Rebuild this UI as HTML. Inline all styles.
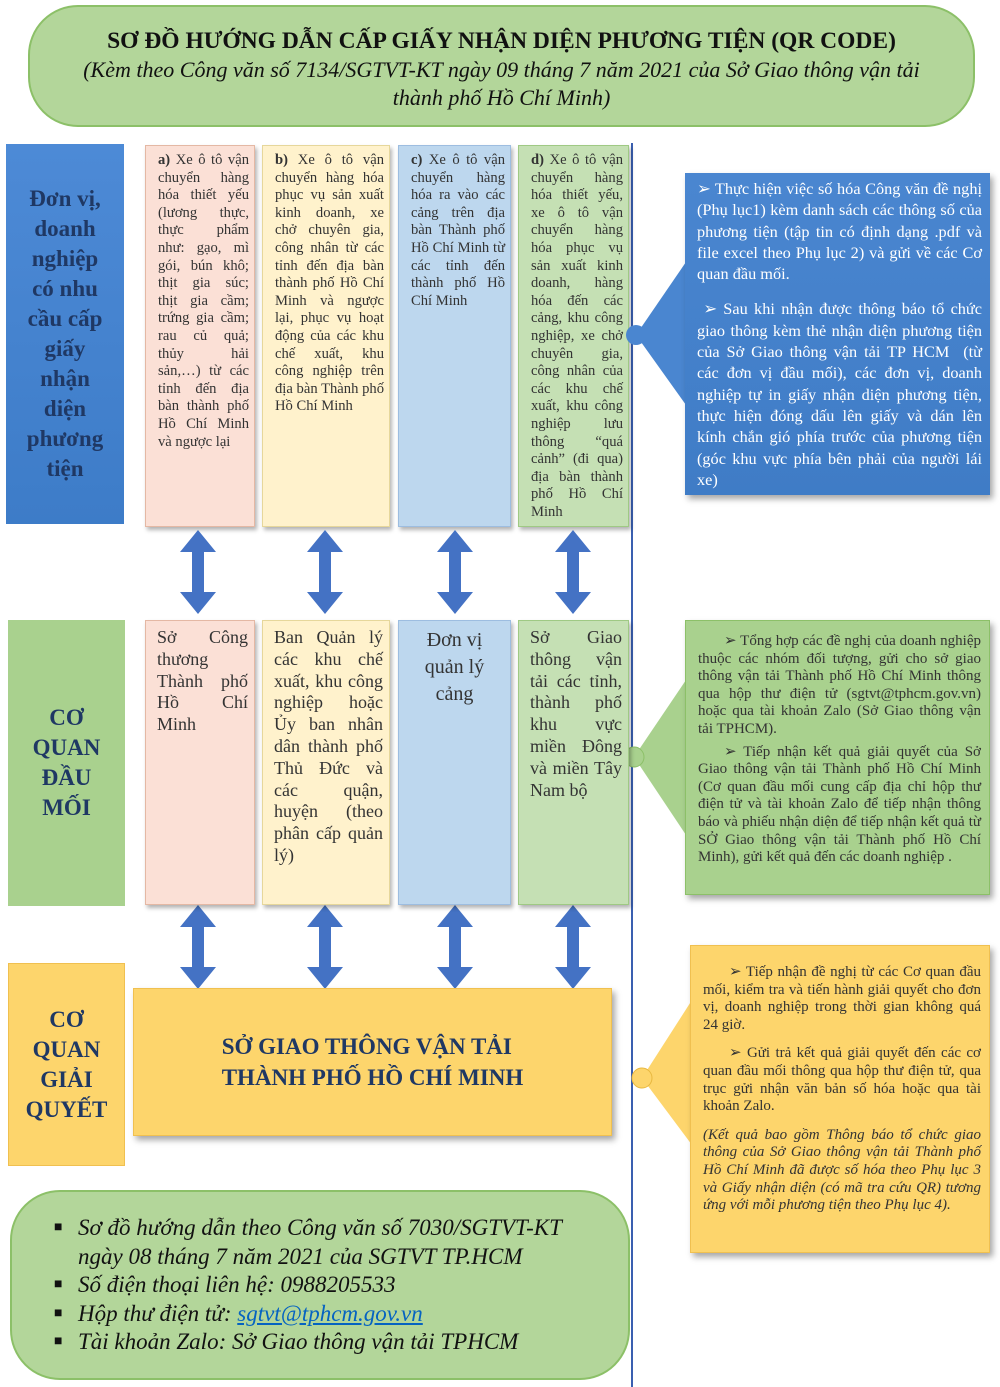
<!DOCTYPE html>
<html><head><meta charset="utf-8"><style>
body{margin:0;width:1000px;height:1387px;position:relative;background:#fff;font-family:"Liberation Serif",serif;overflow:hidden}
.a{position:absolute;box-sizing:border-box}
.col{font-size:14.6px;line-height:17.6px;text-align:justify;color:#333;padding:6px 5px 0 12px;box-shadow:2px 3px 4px rgba(0,0,0,.3)}
.col2{font-size:18px;line-height:21.8px;text-align:justify;color:#333;padding:6px 6px 0 11px;box-shadow:2px 3px 4px rgba(0,0,0,.3)}
.lbl{font-weight:bold;color:#1f3864;text-align:center;display:flex;align-items:center;justify-content:center}
.call{box-shadow:3px 4px 6px rgba(0,0,0,.35);text-align:justify}
p{margin:0}
</style></head><body>
<div class="a" style="left:28px;top:5px;width:947px;height:122px;border-radius:50px;background:#b3d69a;border:2px solid #8cc068;text-align:center;color:#111;padding-top:20px">
<div style="font-size:23.5px;font-weight:bold;line-height:29px">SƠ ĐỒ HƯỚNG DẪN CẤP GIẤY NHẬN DIỆN PHƯƠNG TIỆN (QR CODE)</div>
<div style="font-size:22px;font-style:italic;line-height:28px;padding:0 30px">(Kèm theo Công văn số 7134/SGTVT-KT ngày 09 tháng 7 năm 2021 của Sở Giao thông vận tải thành phố Hồ Chí Minh)</div>
</div>

<div class="a" style="left:631px;top:143px;width:2px;height:1244px;background:#3a5fb0"></div>

<div class="a lbl" style="left:6px;top:144px;width:118px;height:380px;background:linear-gradient(#4d8ad6,#3d7cc8);font-size:23px;line-height:30px;padding:0 16px">Đơn vị, doanh nghiệp có nhu cầu cấp giấy nhận diện phương tiện</div>
<div class="a col" style="left:145px;top:145px;width:110px;height:382px;background:#fbe0d6;border:1px solid #e4b8a4"><b>a)</b> Xe ô tô vận chuyển hàng hóa thiết yếu (lương thực, thực phẩm như: gạo, mì gói, bún khô; thịt gia súc; thịt gia cầm; trứng gia cầm; rau củ quả; thủy hải sản,…) từ các tỉnh đến địa bàn thành phố Hồ Chí Minh và ngược lại</div>
<div class="a col" style="left:262px;top:145px;width:128px;height:382px;background:#fff2cc;border:1px solid #e6d79b"><b>b)</b> Xe ô tô vận chuyển hàng hóa phục vụ sản xuất kinh doanh, xe chở chuyên gia, công nhân từ các tỉnh đến địa bàn thành phố Hồ Chí Minh và ngược lại, phục vụ hoạt động của các khu chế xuất, khu công nghiệp trên địa bàn Thành phố Hồ Chí Minh</div>
<div class="a col" style="left:398px;top:145px;width:113px;height:382px;background:#bdd7ee;border:1px solid #9dbde0"><b>c)</b> Xe ô tô vận chuyển hàng hóa ra vào các cảng trên địa bàn Thành phố Hồ Chí Minh từ các tỉnh đến thành phố Hồ Chí Minh</div>
<div class="a col" style="left:518px;top:145px;width:111px;height:382px;background:#c5e0b4;border:1px solid #9fc984"><b>d)</b> Xe ô tô vận chuyển hàng hóa thiết yếu, xe ô tô vận chuyển hàng hóa phục vụ sản xuất kinh doanh, hàng hóa đến các cảng, khu công nghiệp, xe chở chuyên gia, công nhân của các khu chế xuất, khu công nghiệp lưu thông “quá cảnh” (đi qua) địa bàn thành phố Hồ Chí Minh</div>

<svg class="a" style="left:0;top:0" width="1000" height="1387">
<defs><g id="arr"><polygon points="0,-42 18,-20 6,-20 6,20 18,20 0,42 -18,20 -6,20 -6,-20 -18,-20" fill="#4472c4"/></g></defs>
<use href="#arr" x="198" y="572"/><use href="#arr" x="325" y="572"/><use href="#arr" x="455" y="572"/><use href="#arr" x="573" y="572"/>
<use href="#arr" x="198" y="947"/><use href="#arr" x="325" y="947"/><use href="#arr" x="455" y="947"/><use href="#arr" x="573" y="947"/>
<polygon points="636,335 686,262 686,405" fill="#4a86d0"/>
<circle cx="636" cy="335" r="10" fill="#4a86d0"/>
<polygon points="634,757 686,680 686,835" fill="#a9d18e"/>
<circle cx="634" cy="757" r="10" fill="#a9d18e" stroke="#8cc068"/>
<polygon points="642,1078 692,1000 692,1145" fill="#fdd56c"/>
<circle cx="642" cy="1078" r="10" fill="#fdd56c" stroke="#e8b840"/>
</svg>

<div class="a call" style="left:685px;top:173px;width:305px;height:322px;background:linear-gradient(#4a86d0,#3f7cc6);color:#fff;font-size:16.3px;line-height:21.3px;padding:5px 8px 0 12px">
<p>➢ Thực hiện việc số hóa Công văn đề nghị (Phụ lục1) kèm danh sách các thông số của phương tiện (tập tin có định dạng .pdf và file excel theo Phụ lục 2) và gửi về các Cơ quan đầu mối.</p>
<p style="margin-top:14px">&nbsp;➢ Sau khi nhận được thông báo tổ chức giao thông kèm thẻ nhận diện phương tiện của Sở Giao thông vận tải TP HCM &nbsp;(từ các đơn vị đầu mối), các đơn vị, doanh nghiệp tự in giấy nhận diện phương tiện, thực hiện đóng dấu lên giấy và dán lên kính chắn gió phía trước của phương tiện (góc khu vực phía bên phải của người lái xe)</p>
</div>

<div class="a lbl" style="left:8px;top:620px;width:117px;height:286px;background:#a9d18e;font-size:23px;line-height:30px;padding:0 30px">CƠ QUAN ĐẦU MỐI</div>
<div class="a col2" style="left:145px;top:620px;width:110px;height:285px;background:#fbe0d6;border:1px solid #e4b8a4">Sở Công thương Thành phố Hồ Chí Minh</div>
<div class="a col2" style="left:262px;top:620px;width:128px;height:285px;background:#fff2cc;border:1px solid #e6d79b">Ban Quản lý các khu chế xuất, khu công nghiệp hoặc Ủy ban nhân dân thành phố Thủ Đức và các quận, huyện (theo phân cấp quản lý)</div>
<div class="a col2" style="left:398px;top:620px;width:113px;height:285px;background:#bdd7ee;border:1px solid #9dbde0;text-align:center;font-size:20px;line-height:27px;padding:6px 14px">Đơn vị quản lý cảng</div>
<div class="a col2" style="left:518px;top:620px;width:111px;height:285px;background:#c5e0b4;border:1px solid #9fc984">Sở Giao thông vận tải các tỉnh, thành phố khu vực miền Đông và miền Tây Nam bộ</div>

<div class="a call" style="left:685px;top:620px;width:305px;height:275px;background:#a9d18e;border:1px solid #8cc068;color:#333;font-size:15px;line-height:17.6px;padding:12px 8px 0 12px">
<p style="text-indent:26px">➢ Tổng hợp các đề nghị của doanh nghiệp thuộc các nhóm đối tượng, gửi cho sở giao thông vận tải Thành phố Hồ Chí Minh thông qua hộp thư điện tử (sgtvt@tphcm.gov.vn) hoặc qua tài khoản Zalo (Sở Giao thông vận tải TPHCM).</p>
<p style="text-indent:26px;margin-top:5px">➢ Tiếp nhận kết quả giải quyết của Sở Giao thông vận tải Thành phố Hồ Chí Minh (Cơ quan đầu mối cung cấp địa chỉ hộp thư điện tử và tài khoản Zalo để tiếp nhận thông báo và phiếu nhận diện để tiếp nhận kết quả từ SỞ Giao thông vận tải Thành phố Hồ Chí Minh), gửi kết quả đến các doanh nghiệp .</p>
</div>

<div class="a lbl" style="left:8px;top:963px;width:117px;height:203px;background:#fdd56c;border:1px solid #f0c050;font-size:23px;line-height:30px;padding:0 30px">CƠ QUAN GIẢI QUYẾT</div>
<div class="a lbl call" style="left:133px;top:988px;width:479px;height:148px;background:#fdd56c;border:1px solid #f0c050;font-size:23px;line-height:31px">SỞ GIAO THÔNG VẬN TẢI<br>THÀNH PHỐ HỒ CHÍ MINH</div>
<div class="a call" style="left:690px;top:945px;width:300px;height:308px;background:#fdd56c;border:1px solid #f0c050;color:#333;font-size:15px;line-height:17.6px;padding:18px 8px 0 12px">
<p style="text-indent:26px">➢ Tiếp nhận đề nghị từ các Cơ quan đầu mối, kiểm tra và tiến hành giải quyết cho đơn vị, doanh nghiệp trong thời gian không quá 24 giờ.</p>
<p style="text-indent:26px;margin-top:11px">➢ Gửi trả kết quả giải quyết đến các cơ quan đầu mối thông qua hộp thư điện tử, qua trục gửi nhận văn bản số hóa hoặc qua tài khoản Zalo.</p>
<p style="font-style:italic;margin-top:11px">(Kết quả bao gồm Thông báo tổ chức giao thông của Sở Giao thông vận tải Thành phố Hồ Chí Minh đã được số hóa theo Phụ lục 3 và Giấy nhận diện (có mã tra cứu QR) tương ứng với mỗi phương tiện theo Phụ lục 4).</p>
</div>

<div class="a" style="left:10px;top:1190px;width:620px;height:190px;border-radius:50px;background:#b3d69a;border:2px solid #8cc068;font-style:italic;font-size:23px;line-height:28.5px;color:#111;padding:22px 26px 0 42px">
<div style="position:relative;padding-left:24px"><span style="position:absolute;left:0;font-style:normal;font-size:14px">■</span>Sơ đồ hướng dẫn theo Công văn số 7030/SGTVT-KT ngày 08 tháng 7 năm 2021 của SGTVT TP.HCM</div>
<div style="position:relative;padding-left:24px"><span style="position:absolute;left:0;font-style:normal;font-size:14px">■</span>Số điện thoại liên hệ: 0988205533</div>
<div style="position:relative;padding-left:24px"><span style="position:absolute;left:0;font-style:normal;font-size:14px">■</span>Hộp thư điện tử: <span style="color:#0563c1;text-decoration:underline">sgtvt@tphcm.gov.vn</span></div>
<div style="position:relative;padding-left:24px"><span style="position:absolute;left:0;font-style:normal;font-size:14px">■</span>Tài khoản Zalo: Sở Giao thông vận tải TPHCM</div>
</div>
</body></html>
